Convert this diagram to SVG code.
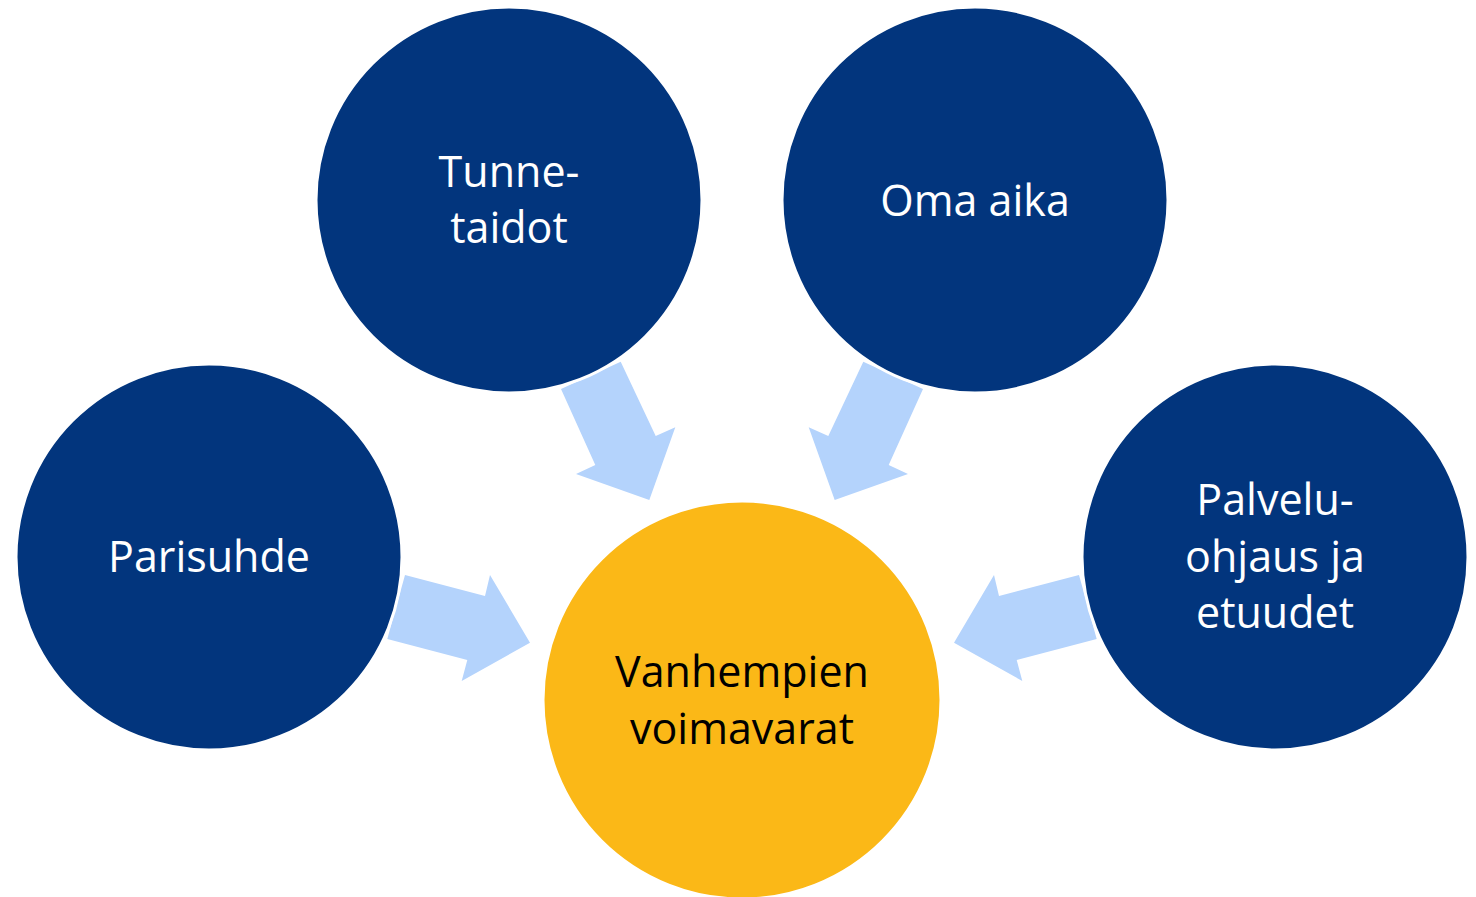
<svg xmlns="http://www.w3.org/2000/svg" width="1476" height="897" viewBox="0 0 1476 897">
<style>
.arrow{fill:#B4D3FC;}
.outer{fill:#02357D;stroke:#FFFFFF;stroke-width:3;}
.center{fill:#FBB817;stroke:#FFFFFF;stroke-width:3;}
.lbl{font-family:"Open Sans","Noto Sans",sans-serif;font-size:43px;font-weight:400;text-anchor:middle;fill:#FFFFFF;}
.dark{fill:#000000;}
</style>
<rect width="1476" height="897" fill="#FFFFFF"/>
<g id="connectors">
<polygon class="arrow" points="561,389 620.7,361.7 655.7,436 675.3,427.3 649.3,500 576,474 595.3,465"/>
<polygon class="arrow" points="923,389 863.3,361.7 828.3,436 808.7,427.3 834.7,500 908,474 888.7,465"/>
<polygon class="arrow" points="405,575 485,596 490,575 530,642.7 461.7,681 467.3,660 387.3,639"/>
<polygon class="arrow" points="1079,575 999,596 994,575 954,642.7 1022.3,681 1016.7,660 1096.7,639"/>
</g>
<g id="node-center">
<circle class="center" cx="742" cy="700" r="199"/>
<text class="lbl dark" x="742" y="687">Vanhempien</text>
<text class="lbl dark" x="742" y="744">voimavarat</text>
</g>
<g id="node-tunnetaidot">
<circle class="outer" cx="509" cy="200" r="193"/>
<text class="lbl" x="509" y="187">Tunne-</text>
<text class="lbl" x="509" y="243">taidot</text>
</g>
<g id="node-omaaika">
<circle class="outer" cx="975" cy="200" r="193"/>
<text class="lbl" x="975" y="216">Oma aika</text>
</g>
<g id="node-parisuhde">
<circle class="outer" cx="209" cy="557" r="193"/>
<text class="lbl" x="209" y="572">Parisuhde</text>
</g>
<g id="node-palvelu">
<circle class="outer" cx="1275" cy="557" r="193"/>
<text class="lbl" x="1275" y="515">Palvelu-</text>
<text class="lbl" x="1275" y="572">ohjaus ja</text>
<text class="lbl" x="1275" y="628">etuudet</text>
</g>
</svg>
